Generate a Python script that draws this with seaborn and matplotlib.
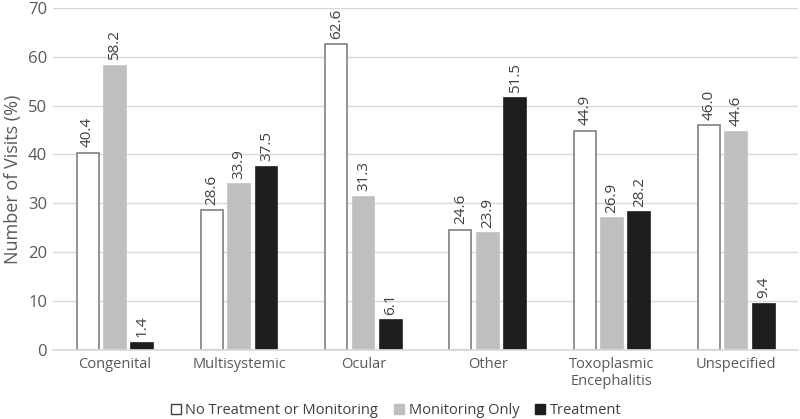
import matplotlib
matplotlib.use("Agg")
import matplotlib.pyplot as plt
import seaborn as sns
import pandas as pd

# datos
categorias = ["Congenital", "Multisystemic", "Ocular", "Other",
              "Toxoplasmic\nEncephalitis", "Unspecified"]
series = ["No Treatment or Monitoring", "Monitoring Only", "Treatment"]
sin_tratamiento = [40.4, 28.6, 62.6, 24.6, 44.9, 46.0]
solo_monitoreo = [58.2, 33.9, 31.3, 23.9, 26.9, 44.6]
tratamiento = [1.4, 37.5, 6.1, 51.5, 28.2, 9.4]

filas = []
for nombre, valores in zip(series, [sin_tratamiento, solo_monitoreo, tratamiento]):
    for cat, v in zip(categorias, valores):
        filas.append({"categoria": cat, "serie": nombre, "valor": v})
df = pd.DataFrame(filas)

sns.set_theme(style="white")
plt.rcParams['font.family'] = ['Open Sans', 'DejaVu Sans']

fig = plt.figure(figsize=(8, 4.19), dpi=100)
ax = fig.add_axes([0.066, 0.165, 0.932, 0.816])

colores = ["#ffffff", "#bfbfbf", "#1e1e1e"]
bordes = ["#808080", "#bfbfbf", "#1e1e1e"]

sns.barplot(data=df, x="categoria", y="valor", hue="serie", order=categorias,
            hue_order=series, palette=colores, width=0.66, gap=0.2,
            linewidth=1.2, ax=ax, legend=False)

for cont, borde in zip(ax.containers, bordes):
    for barra in cont:
        barra.set_edgecolor(borde)
    ax.bar_label(cont, fmt="%.1f", rotation=90, padding=4,
                 fontsize=11, color="#404040")

ax.set_ylim(0, 70)
ax.set_yticks(range(0, 71, 10))
ax.yaxis.grid(True, color="#d9d9d9", linewidth=1)
ax.set_axisbelow(True)
for lado in ["left", "right", "top"]:
    ax.spines[lado].set_visible(False)
ax.spines["bottom"].set_color("#d9d9d9")
ax.tick_params(axis="x", length=0, labelsize=10.5, colors="#595959", pad=5)
ax.tick_params(axis="y", length=0, labelsize=12, colors="#595959", pad=4)
ax.set_xlabel("")
ax.set_ylabel("Number of Visits (%)", fontsize=13, color="#595959", labelpad=4)

manejadores = [plt.Rectangle((0, 0), 1, 1, facecolor=c, edgecolor=b, linewidth=1)
               for c, b in zip(colores, ["#404040", "#bfbfbf", "#1e1e1e"])]
fig.legend(manejadores, series, loc="lower center", bbox_to_anchor=(0.495, -0.03),
           ncol=3, frameon=False, fontsize=10.5, handlelength=0.7,
           handleheight=0.7, handletextpad=0.3, columnspacing=1.1,
           labelcolor="#404040")

fig.savefig("out.png", dpi=100)
